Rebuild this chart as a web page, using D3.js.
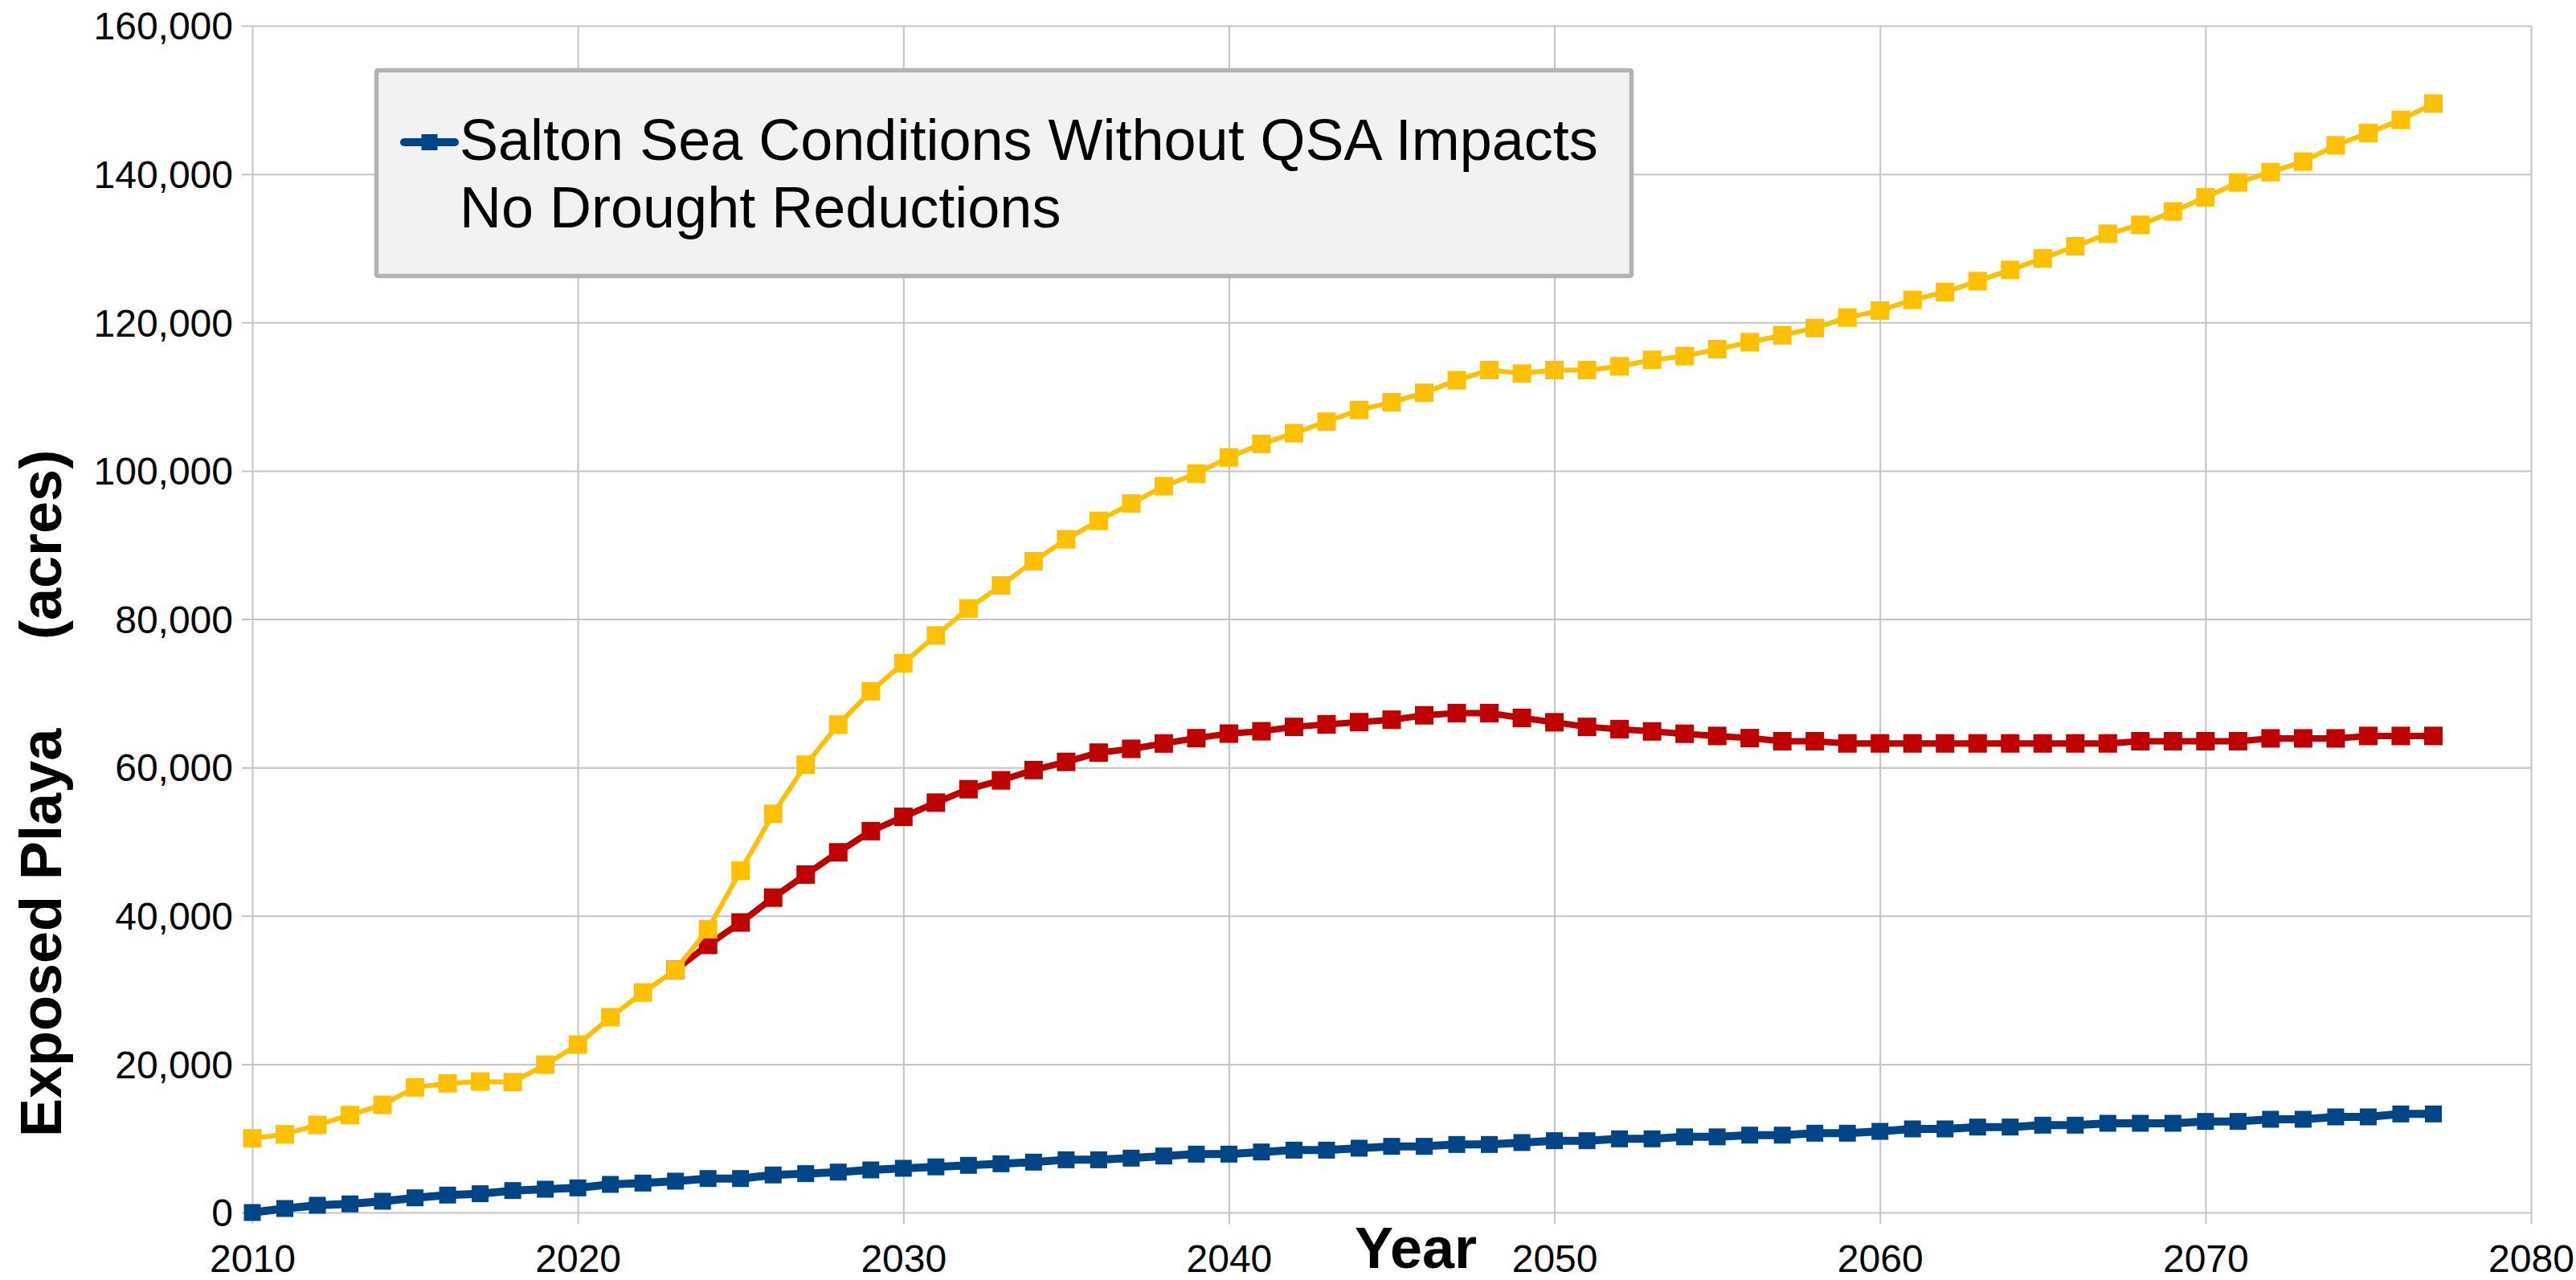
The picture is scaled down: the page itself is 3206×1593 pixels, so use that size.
<!DOCTYPE html>
<html>
<head>
<meta charset="utf-8">
<script src="https://cdn.jsdelivr.net/npm/d3@7"></script>
<style>
  html, body { margin: 0; padding: 0; background: #ffffff; }
  svg { display: block; font-family: "Liberation Sans", Arial, sans-serif; }
</style>
</head>
<body>
<svg id="chart" width="3206" height="1593"></svg>
<script>
// ---------------- DATA ----------------
const years = d3.range(2010, 2078);

const yellowValues = [
  10000, 10540, 11810, 13140, 14520, 16870, 17410, 17660, 17580, 19930,
  22640, 26330, 29660, 32720, 38180, 46080, 53750, 60380, 65770, 70280,
  74060, 77800, 81430, 84540, 87800, 90760, 93250, 95580, 97910, 99620,
  101800, 103620, 105070, 106620, 108200, 109240, 110510, 112210, 113580, 113110,
  113580, 113580, 114080, 114950, 115460, 116400, 117330, 118270, 119250, 120660,
  121600, 123040, 124090, 125570, 127080, 128630, 130260, 131960, 133150, 134960,
  136870, 138860, 140260, 141680, 143880, 145540, 147310, 149510
];

const redYears = d3.range(2023, 2078);
const redValues = [
  32720, 36080, 39100, 42450, 45560, 48560, 51420, 53340, 55260, 57070,
  58260, 59650, 60750, 62000, 62510, 63230, 63950, 64560, 64880, 65470,
  65810, 66110, 66440, 67030, 67330, 67330, 66680, 66090, 65470, 65170,
  64860, 64540, 64250, 63960, 63540, 63540, 63240, 63240, 63240, 63240,
  63240, 63240, 63240, 63240, 63240, 63540, 63540, 63540, 63540, 63920,
  63920, 63920, 64250, 64250, 64250
];

const blueValues = [
  0, 540, 975, 1160, 1520, 1980, 2350, 2530, 2960, 3140,
  3320, 3790, 3970, 4225, 4580, 4580, 5060, 5240, 5450, 5740,
  5960, 6150, 6360, 6570, 6790, 7110, 7110, 7330, 7620, 7870,
  7870, 8160, 8410, 8410, 8670, 8920, 8920, 9170, 9170, 9430,
  9680, 9680, 9930, 9930, 10200, 10200, 10430, 10430, 10690, 10690,
  10940, 11270, 11270, 11520, 11520, 11770, 11770, 12030, 12030, 12030,
  12280, 12280, 12570, 12570, 12890, 12890, 13290, 13290
];

const xTicks = [2010, 2020, 2030, 2040, 2050, 2060, 2070, 2080];
const yTicks = [0, 20000, 40000, 60000, 80000, 100000, 120000, 140000, 160000];

const legendLines = ["Salton Sea Conditions Without QSA Impacts", "No Drought Reductions"];
const yTitleParts = ["Exposed Playa", "(acres)"];
const xTitle = "Year";

// ---------------- LAYOUT ----------------
const svg = d3.select("#chart");
const plotLeft = 314, plotRight = 3150, plotTop = 32, plotBottom = 1509;

const x = d3.scaleLinear().domain([2010, 2080]).range([plotLeft, plotRight]);
const y = d3.scaleLinear().domain([0, 160000]).range([plotBottom, plotTop]);

const gridColor = "#c4c4c4";
const fontFam = "Liberation Sans, Arial, sans-serif";

// Vertical grid + x axis
const xAxis = d3.axisBottom(x)
  .tickValues(xTicks)
  .tickSize(-(plotBottom - plotTop))
  .tickFormat(d3.format("d"))
  .tickPadding(0);
const gx = svg.append("g").attr("transform", `translate(0,${plotBottom})`).call(xAxis);
gx.select(".domain").remove();
gx.selectAll(".tick line").attr("stroke", gridColor).attr("stroke-width", 2)
  .attr("y1", 14);
gx.selectAll(".tick text")
  .attr("fill", "#000").attr("font-size", 48)
  .attr("font-family", fontFam)
  .attr("dy", null).attr("y", 74);

// Horizontal grid + y axis
const yAxis = d3.axisLeft(y)
  .tickValues(yTicks)
  .tickSize(-(plotRight - plotLeft))
  .tickFormat(d3.format(","))
  .tickPadding(0);
const gy = svg.append("g").attr("transform", `translate(${plotLeft},0)`).call(yAxis);
gy.select(".domain").remove();
gy.selectAll(".tick line").attr("stroke", gridColor).attr("stroke-width", 2)
  .attr("x1", -13);
gy.selectAll(".tick text")
  .attr("fill", "#000").attr("font-size", 48)
  .attr("font-family", fontFam)
  .attr("x", -24).attr("dy", "0.35em");

// ---------------- SERIES ----------------
function drawSeries(xs, vs, color, width, msize) {
  const pts = xs.map((yr, i) => [yr, vs[i]]);
  const line = d3.line().x(d => x(d[0])).y(d => y(d[1]));
  const g = svg.append("g");
  g.append("path").datum(pts)
    .attr("d", line)
    .attr("fill", "none")
    .attr("stroke", color)
    .attr("stroke-width", width)
    .attr("stroke-linejoin", "round")
    .attr("stroke-linecap", "round");
  g.selectAll("rect").data(pts).enter().append("rect")
    .attr("x", d => x(d[0]) - msize / 2)
    .attr("y", d => y(d[1]) - msize / 2)
    .attr("width", msize).attr("height", msize)
    .attr("fill", color);
}

drawSeries(years, blueValues, "#004586", 10, 21);
drawSeries(redYears, redValues, "#c00000", 8, 23);
drawSeries(years, yellowValues, "#ffc000", 6, 23);

// ---------------- LEGEND ----------------
const lg = svg.append("g");
lg.append("rect")
  .attr("x", 468.5).attr("y", 87.5)
  .attr("width", 1562).attr("height", 256)
  .attr("rx", 2)
  .attr("fill", "#f2f2f2")
  .attr("stroke", "#b3b3b3")
  .attr("stroke-width", 5.5);
lg.append("line")
  .attr("x1", 503).attr("x2", 566).attr("y1", 177).attr("y2", 177)
  .attr("stroke", "#004586").attr("stroke-width", 10).attr("stroke-linecap", "round");
lg.append("rect")
  .attr("x", 524.5).attr("y", 167).attr("width", 20).attr("height", 20)
  .attr("fill", "#004586");
lg.selectAll("text.leg").data(legendLines).enter().append("text")
  .attr("class", "leg")
  .attr("x", 572)
  .attr("y", (d, i) => 199 + i * 84)
  .attr("font-size", 72)
  .attr("fill", "#000")
  .text(d => d);

// ---------------- AXIS TITLES ----------------
const yt = svg.append("g").attr("transform", "translate(76,0) rotate(-90)");
yt.append("text")
  .attr("x", -1415).attr("y", 0)
  .attr("font-size", 72).attr("font-weight", "bold").attr("fill", "#000")
  .text(yTitleParts[0]);
yt.append("text")
  .attr("x", -796).attr("y", 0)
  .attr("font-size", 72).attr("font-weight", "bold").attr("fill", "#000")
  .text(yTitleParts[1]);

svg.append("text")
  .attr("x", 1762).attr("y", 1578)
  .attr("text-anchor", "middle")
  .attr("font-size", 72).attr("font-weight", "bold").attr("fill", "#000")
  .text(xTitle);
</script>
</body>
</html>
